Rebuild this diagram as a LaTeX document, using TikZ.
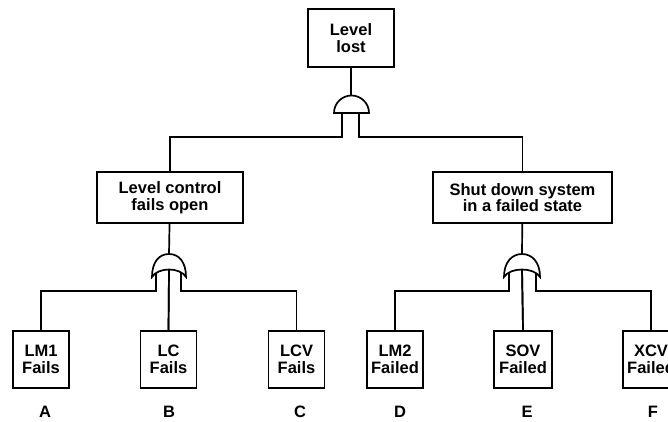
\documentclass[tikz,border=0pt]{standalone}
\usepackage{fontspec}
\setmainfont{Liberation Sans}
\begin{document}
\begin{tikzpicture}[x=1pt,y=-1pt,
  line width=1.7pt, line join=miter,
  every node/.style={font=\bfseries\fontsize{16.5}{16.5}\selectfont, inner sep=1pt, align=center},
  event/.style={draw, rectangle},
  basic/.style={draw, rectangle, minimum width=56pt, minimum height=57pt},
  letter/.style={},
  gate/.style={draw, fill=white}
]
\clip (0,0) rectangle (668,421);
\fill[white] (0,0) rectangle (668,421);

% events
\node[event, minimum width=86pt, minimum height=58pt] (top) at (351,38) {Level\\lost};
\node[event, minimum width=146pt, minimum height=51pt] (lc) at (170,197.5) {Level control\\fails open};
\node[event, minimum width=179pt, minimum height=51pt] (sd) at (522.5,197.5) {Shut down system\\in a failed state};

% basic events
\node[basic] (a) at (41,359.5) {LM1\\Fails};
\node[basic] (b) at (168.5,359.5) {LC\\Fails};
\node[basic] (c) at (296.5,359.5) {LCV\\Fails};
\node[basic] (d) at (395,359.5) {LM2\\Failed};
\node[basic, minimum width=58pt] (e) at (523,359.5) {SOV\\Failed};
\node[basic] (f) at (651,359.5) {XCV\\Failed};

\node[letter] at (45,412) {A};
\node[letter] at (169,412) {B};
\node[letter] at (300,412) {C};
\node[letter] at (400,412) {D};
\node[letter] at (527,412) {E};
\node[letter] at (653,412) {F};

% gate anchors
\coordinate (andT) at (351,96);
\coordinate (andL) at (342,113);
\coordinate (andR) at (359,113);
\coordinate (orLT) at (169,254);
\coordinate (orLB) at (169,266);
\coordinate (orLl) at (156,266);
\coordinate (orLr) at (181,266);
\coordinate (orRT) at (522,254);
\coordinate (orRB) at (522,266);
\coordinate (orRl) at (509,266);
\coordinate (orRr) at (536,266);

% connectors
\draw (top) -- (andT);
\draw (andL) -- ++(0,24) -| (lc.north);
\draw (andR) -- ++(0,24) -| (sd.north);

\draw (lc) -- (orLT);
\draw (orLl) -- (156,291) -| (a.north);
\draw (orLB) -- (b.north);
\draw (orLr) -- (181,291) -| (c.north);

\draw (sd) -- (orRT);
\draw (orRl) -- (509,291) -| (d.north);
\draw (orRB) -- (e.north);
\draw (orRr) -- (536,291) -| (f.north);

% AND gate (dome pointing up)
\draw[gate] (334,113) arc[start angle=180, end angle=360, radius=17.5] -- cycle;

% OR gates
\draw[gate] (152,277) .. controls (152,262) and (159,254) .. (169,254)
  .. controls (179,254) and (186,262) .. (186,277)
  .. controls (180,267) and (158,267) .. cycle;
\draw[gate] (504,277) .. controls (504,262) and (512,254) .. (522,254)
  .. controls (532,254) and (540,262) .. (540,277)
  .. controls (534,267) and (510,267) .. cycle;
\draw (169,269) -- (b.north);
\draw (522,269) -- (e.north);
\draw (156,273) -- (156,291);
\draw (181,273) -- (181,291);
\draw (509,273) -- (509,291);
\draw (536,273) -- (536,291);
\end{tikzpicture}
\end{document}
